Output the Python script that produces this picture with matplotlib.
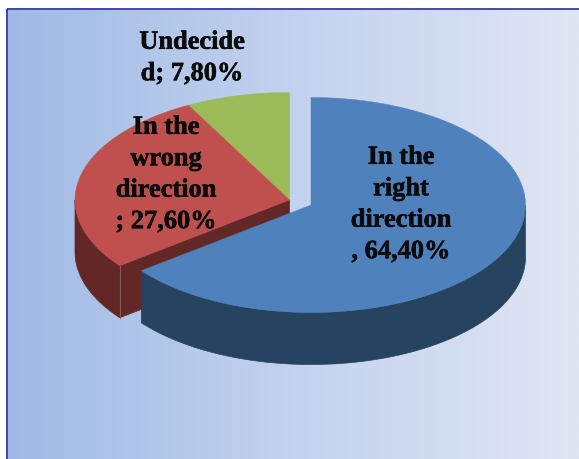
import matplotlib
matplotlib.use("Agg")
from matplotlib import pyplot as plt
from matplotlib import patheffects
from matplotlib.colors import LinearSegmentedColormap
from matplotlib.patches import Polygon, Rectangle
import numpy as np

categories = ['In the right direction', 'In the wrong direction', 'Undecided']
values = [64.4, 27.6, 7.8]
labels = ['In the\nright\ndirection\n, 64,40%', 'In the\nwrong\ndirection\n; 27,60%', 'Undecide\nd; 7,80%']

top_colors = ['#4F81BD', '#C0504D', '#9BBB59']
side_colors = ['#264360', '#632826', '#4F6228']
centers = [(311, 205), (289.5, 200), (289.5, 200)]
label_pos = [(401, 204.5), (166, 174.5), (192, 58)]

rx = 214.5
ry = 107.5
depth = 52

fig = plt.figure(figsize=(5.79, 4.59), dpi=100)
ax = fig.add_axes([0, 0, 1, 1])
ax.set_xlim(0, 579)
ax.set_ylim(459, 0)
ax.axis('off')

# background gradient
cmap = LinearSegmentedColormap.from_list('bg', ['#A0BAE4', '#C3D2EE', '#E0E6F4'])
grad = np.linspace(0, 1, 256).reshape(1, -1)
ax.imshow(grad, cmap=cmap, extent=[6, 579, 459, 8], aspect='auto', zorder=0)
ax.set_xlim(0, 579)
ax.set_ylim(459, 0)
ax.add_patch(Rectangle((6.5, 8.5), 580, 460, fill=False, ec='#3B3FA6', lw=1.3, zorder=1))


def point(c, a):
    return c[0] + rx * np.sin(a), c[1] - ry * np.cos(a)


def arc(c, a0, a1):
    t = np.linspace(a0, a1, 200)
    return np.column_stack([c[0] + rx * np.sin(t), c[1] - ry * np.cos(t)])


# clockwise from 12 o'clock, the percentages are rescaled to a full circle
edges = np.concatenate([[0], np.cumsum(values)]) / np.sum(values) * 2 * np.pi

# red first, the blue slice sits in front of it
for i in [2, 1, 0]:
    c = centers[i]
    a0, a1 = edges[i], edges[i + 1]

    # radial cut face on the start side of the red slice
    if i == 1:
        x0, y0 = point(c, a0)
        face = [(c[0], c[1]), (x0, y0), (x0, y0 + depth), (c[0], c[1] + depth)]
        ax.add_patch(Polygon(face, fc=side_colors[i], ec=side_colors[i], lw=0.5, zorder=2))

    # outer wall, only the front half shows
    w0, w1 = max(a0, np.pi / 2), min(a1, 3 * np.pi / 2)
    if w1 > w0:
        top = arc(c, w0, w1)
        wall = np.vstack([top, (top + [0, depth])[::-1]])
        ax.add_patch(Polygon(wall, fc=side_colors[i], ec=side_colors[i], lw=0.5, zorder=2))

    if i == 1:
        ax.plot([x0, x0], [y0, y0 + depth], color='#8A5A5A', lw=0.7, zorder=2)

    # top of the slice
    shape = np.vstack([[c], arc(c, a0, a1)])
    ax.add_patch(Polygon(shape, fc=top_colors[i], ec=top_colors[i], lw=0.3, zorder=2))

for lab, (x, y) in zip(labels, label_pos):
    t = ax.text(x, y, lab, ha='center', va='center', multialignment='center', color='#0A0A0A',
                family='Liberation Serif', fontweight='bold', fontsize=19, linespacing=1.47, zorder=3)
    t.set_path_effects([patheffects.withStroke(linewidth=0.4, foreground='#0A0A0A')])

fig.savefig('out.png', dpi=100)
